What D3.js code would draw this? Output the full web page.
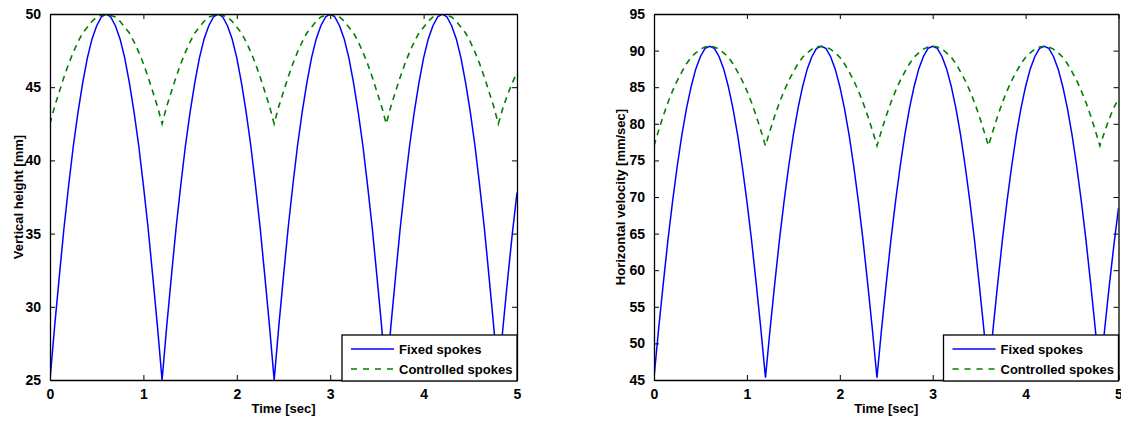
<!DOCTYPE html>
<html>
<head>
<meta charset="utf-8">
<script src="https://cdn.jsdelivr.net/npm/d3@7"></script>
<style>
  body { margin: 0; background: #fff; }
  svg { display: block; }
  text { font-family: "Liberation Sans", Arial, sans-serif; font-weight: bold; fill: #000; }
</style>
</head>
<body>
<script>
// time samples, 0 .. 5 sec every 0.05
var times = d3.range(0, 101).map(function(i){ return +(i * 0.05).toFixed(2); });

// left panel: vertical height [mm]
var heightFixed = [
  25.0,28.7,32.1,35.4,38.3,41.0,43.3,45.3,47.0,48.3,49.2,49.8,50.0,49.8,49.2,48.3,47.0,45.3,43.3,41.0,38.3,35.4,32.1,28.7,
  25.0,28.7,32.1,35.4,38.3,41.0,43.3,45.3,47.0,48.3,49.2,49.8,50.0,49.8,49.2,48.3,47.0,45.3,43.3,41.0,38.3,35.4,32.1,28.7,
  25.0,28.7,32.1,35.4,38.3,41.0,43.3,45.3,47.0,48.3,49.2,49.8,50.0,49.8,49.2,48.3,47.0,45.3,43.3,41.0,38.3,35.4,32.1,28.7,
  25.0,28.7,32.1,35.4,38.3,41.0,43.3,45.3,47.0,48.3,49.2,49.8,50.0,49.8,49.2,48.3,47.0,45.3,43.3,41.0,38.3,35.4,32.1,28.7,
  25.0,28.6,31.9,35.0,37.8
];
var heightControlled = [
  42.5,43.7,44.7,45.7,46.6,47.4,48.1,48.7,49.1,49.5,49.8,49.9,50.0,49.9,49.8,49.5,49.1,48.7,48.1,47.4,46.6,45.7,44.7,43.7,
  42.5,43.7,44.7,45.7,46.6,47.4,48.1,48.7,49.1,49.5,49.8,49.9,50.0,49.9,49.8,49.5,49.1,48.7,48.1,47.4,46.6,45.7,44.7,43.7,
  42.5,43.7,44.7,45.7,46.6,47.4,48.1,48.7,49.1,49.5,49.8,49.9,50.0,49.9,49.8,49.5,49.1,48.7,48.1,47.4,46.6,45.7,44.7,43.7,
  42.5,43.7,44.7,45.7,46.6,47.4,48.1,48.7,49.1,49.5,49.8,49.9,50.0,49.9,49.8,49.5,49.1,48.7,48.1,47.4,46.6,45.7,44.7,43.7,
  42.5,43.6,44.5,45.3,46.0
];

// right panel: horizontal velocity [mm/sec]
var velFixed = [
  45.3,52.0,58.2,64.1,69.4,74.2,78.5,82.1,85.1,87.5,89.2,90.3,90.6,90.3,89.2,87.5,85.1,82.1,78.5,74.2,69.4,64.1,58.2,52.0,
  45.3,52.0,58.2,64.1,69.4,74.2,78.5,82.1,85.1,87.5,89.2,90.3,90.6,90.3,89.2,87.5,85.1,82.1,78.5,74.2,69.4,64.1,58.2,52.0,
  45.3,52.0,58.2,64.1,69.4,74.2,78.5,82.1,85.1,87.5,89.2,90.3,90.6,90.3,89.2,87.5,85.1,82.1,78.5,74.2,69.4,64.1,58.2,52.0,
  45.3,52.0,58.2,64.1,69.4,74.2,78.5,82.1,85.1,87.5,89.2,90.3,90.6,90.3,89.2,87.5,85.1,82.1,78.5,74.2,69.4,64.1,58.2,52.0,
  45.3,51.8,57.8,63.4,68.5
];
var velControlled = [
  77.0,79.1,81.1,82.9,84.5,85.9,87.1,88.2,89.1,89.7,90.2,90.5,90.6,90.5,90.2,89.7,89.1,88.2,87.1,85.9,84.5,82.9,81.1,79.1,
  77.0,79.1,81.1,82.9,84.5,85.9,87.1,88.2,89.1,89.7,90.2,90.5,90.6,90.5,90.2,89.7,89.1,88.2,87.1,85.9,84.5,82.9,81.1,79.1,
  77.0,79.1,81.1,82.9,84.5,85.9,87.1,88.2,89.1,89.7,90.2,90.5,90.6,90.5,90.2,89.7,89.1,88.2,87.1,85.9,84.5,82.9,81.1,79.1,
  77.0,79.1,81.1,82.9,84.5,85.9,87.1,88.2,89.1,89.7,90.2,90.5,90.6,90.5,90.2,89.7,89.1,88.2,87.1,85.9,84.5,82.9,81.1,79.1,
  77.0,78.9,80.7,82.2,83.4
];

var xTicks = [0, 1, 2, 3, 4, 5];
var heightTicks = [25, 30, 35, 40, 45, 50];
var velTicks = [45, 50, 55, 60, 65, 70, 75, 80, 85, 90, 95];
var legendLabels = ["Fixed spokes", "Controlled spokes"];

var width = 1121, height = 421;
var svg = d3.select("body").append("svg")
  .attr("width", width)
  .attr("height", height);

drawPanel({
  left: 50, right: 517, top: 14, bottom: 380,
  yDomain: [25, 50], yTicks: heightTicks,
  yLabel: "Vertical height [mm]", yLabelX: 18,
  fixed: heightFixed, controlled: heightControlled
});

drawPanel({
  left: 654, right: 1118.5, top: 14, bottom: 380,
  yDomain: [45, 95], yTicks: velTicks,
  yLabel: "Horizontal velocity [mm/sec]", yLabelX: 620,
  fixed: velFixed, controlled: velControlled
});

function drawPanel(p) {
  var x = d3.scaleLinear().domain([0, 5]).range([p.left, p.right]);
  var y = d3.scaleLinear().domain(p.yDomain).range([p.bottom, p.top]);
  var g = svg.append("g");
  var clipId = "clip" + Math.round(p.left);

  g.append("clipPath").attr("id", clipId)
    .append("rect")
    .attr("x", p.left).attr("y", p.top)
    .attr("width", p.right - p.left).attr("height", p.bottom - p.top);

  var line = d3.line()
    .x(function(d){ return x(d[0]); })
    .y(function(d){ return y(d[1]); });

  var plot = g.append("g").attr("clip-path", "url(#" + clipId + ")");
  plot.append("path")
    .datum(d3.zip(times, p.fixed))
    .attr("d", line)
    .attr("fill", "none")
    .attr("stroke", "#0000ff")
    .attr("stroke-width", 1.5);
  plot.append("path")
    .datum(d3.zip(times, p.controlled))
    .attr("d", line)
    .attr("fill", "none")
    .attr("stroke", "#008000")
    .attr("stroke-width", 1.6)
    .attr("stroke-dasharray", "6,5");

  // axes, ticks pointing inward on all four sides
  var tickFmt = function(d){ return d; };
  g.append("g").attr("transform", "translate(0," + p.bottom + ")")
    .call(d3.axisBottom(x).tickValues(xTicks).tickSizeInner(-5).tickSizeOuter(0).tickPadding(9).tickFormat(tickFmt));
  g.append("g").attr("transform", "translate(0," + p.top + ")")
    .call(d3.axisTop(x).tickValues(xTicks).tickSizeInner(-5).tickSizeOuter(0).tickFormat(""));
  g.append("g").attr("transform", "translate(" + p.left + ",0)")
    .call(d3.axisLeft(y).tickValues(p.yTicks).tickSizeInner(-5).tickSizeOuter(0).tickPadding(9).tickFormat(tickFmt));
  g.append("g").attr("transform", "translate(" + p.right + ",0)")
    .call(d3.axisRight(y).tickValues(p.yTicks).tickSizeInner(-5).tickSizeOuter(0).tickFormat(""));

  g.selectAll(".domain").attr("stroke", "#000").attr("stroke-width", 1.3);
  g.selectAll(".tick line").attr("stroke", "#000");
  g.selectAll(".tick text")
    .style("font-family", "'Liberation Sans', Arial, sans-serif")
    .style("font-weight", "bold")
    .style("font-size", "14px")
    .attr("fill", "#000");

  g.append("text")
    .attr("x", (p.left + p.right) / 2)
    .attr("y", 413)
    .attr("text-anchor", "middle")
    .style("font-size", "13px")
    .text("Time [sec]");

  g.append("text")
    .attr("transform", "translate(" + p.yLabelX + "," + ((p.top + p.bottom) / 2) + ") rotate(-90)")
    .attr("text-anchor", "middle")
    .attr("dy", "0.35em")
    .style("font-size", "13px")
    .text(p.yLabel);

  // legend box in the lower right corner
  var lg = g.append("g");
  var boxLeft = p.right - 175;
  lg.append("rect")
    .attr("x", boxLeft).attr("y", 335)
    .attr("width", p.right - boxLeft).attr("height", 46)
    .attr("fill", "#fff").attr("stroke", "#000").attr("stroke-width", 1.3);
  var styles = [{ c: "#0000ff", dash: null }, { c: "#008000", dash: "6,6" }];
  legendLabels.forEach(function(label, i){
    var cy = 349 + i * 20;
    lg.append("line")
      .attr("x1", boxLeft + 9).attr("x2", boxLeft + 52)
      .attr("y1", cy).attr("y2", cy)
      .attr("stroke", styles[i].c).attr("stroke-width", 1.5)
      .attr("stroke-dasharray", styles[i].dash);
    lg.append("text")
      .attr("x", boxLeft + 57).attr("y", cy)
      .attr("dy", "0.35em")
      .style("font-size", "13px")
      .text(label);
  });
}
</script>
</body>
</html>
